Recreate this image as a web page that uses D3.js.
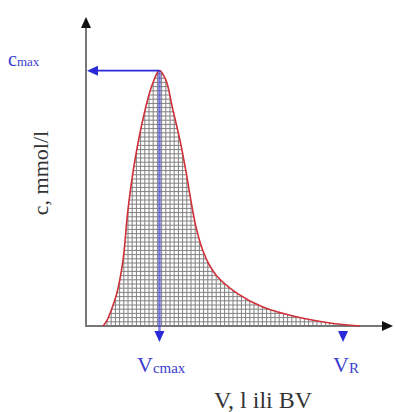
<!DOCTYPE html>
<html><head><meta charset="utf-8">
<script src="https://cdn.jsdelivr.net/npm/d3@7"></script>
<style>body{margin:0;background:#fff}svg{display:block}</style>
</head><body>
<svg id="c" width="395" height="412"></svg>
<script>
// Data (volume V, concentration c)
const volume = [5.6, 6.9, 8.5, 10.1, 12.1, 13.7, 16.0, 19.3, 21.6, 24.0, 26.1, 28.4, 30.7, 32.6, 34.3, 36.0, 38.2, 40.5, 42.8, 49.3, 57.8, 69.0, 79.7, 89.5];
const conc   = [0, 2.3, 7.0, 12.9, 25.8, 45.4, 65.0, 84.6, 94.4, 100, 96.3, 84.6, 72.8, 61.0, 49.0, 38.5, 29.5, 23.5, 19.5, 12.9, 7.4, 3.5, 1.2, 0];
const markers = ["Vcmax", "VR"];
const markerV = [24.0, 84.0];
const cmaxValue = [100];
const labels = { y: "c, mmol/l", x: "V, l ili BV" };

const svg = d3.select("#c");
const x = d3.scaleLinear().domain([0, 100]).range([86, 392]);
const y = d3.scaleLinear().domain([0, 121]).range([326, 17]);
const pts = volume.map((v, i) => [v, conc[i]]);

const crv = d3.curveCatmullRom.alpha(0.5);
const area = d3.area().x(d => x(d[0])).y0(y(0)).y1(d => y(d[1])).curve(crv);
const line = d3.line().x(d => x(d[0])).y(d => y(d[1])).curve(crv);

svg.append("clipPath").attr("id", "clip").append("path").attr("d", area(pts));
const g = svg.append("g").attr("clip-path", "url(#clip)");
const gx = d3.range(x(0), x(100), 4.2);
const gy = d3.range(y(0), y(121), -4.2);
g.selectAll("line.v").data(gx).join("line").attr("x1", d => d).attr("x2", d => d)
  .attr("y1", y(0)).attr("y2", y(121)).attr("stroke", "#808080").attr("stroke-width", 1);
g.selectAll("line.h").data(gy).join("line").attr("y1", d => d).attr("y2", d => d)
  .attr("x1", x(0)).attr("x2", x(100)).attr("stroke", "#808080").attr("stroke-width", 1);

// axes
const axisCol = "#777";
svg.append("line").attr("x1", x(0)).attr("x2", x(100) - 6).attr("y1", y(0)).attr("y2", y(0))
  .attr("stroke", axisCol).attr("stroke-width", 2);
svg.append("line").attr("x1", x(0)).attr("x2", x(0)).attr("y1", y(0) + 1).attr("y2", y(121) + 8)
  .attr("stroke", axisCol).attr("stroke-width", 2);
svg.append("path").attr("d", `M${x(0)},${y(121)} l-5,11 l10,0 Z`).attr("fill", "#111");
svg.append("path").attr("d", `M${x(100) + 1},${y(0)} l-11,-5 l0,10 Z`).attr("fill", "#111");

// curve
svg.append("path").attr("d", line(pts)).attr("fill", "none").attr("stroke", "#d0303a").attr("stroke-width", 1.6);

// markers
const blue = "#2a2ad8";
const peakV = markerV[0];
svg.append("line").attr("x1", x(peakV)).attr("x2", x(peakV)).attr("y1", y(cmaxValue[0])).attr("y2", y(0) + 6)
  .attr("stroke", "#4444dd").attr("stroke-opacity", 0.7).attr("stroke-width", 2.5);
svg.append("line").attr("x1", x(peakV)).attr("x2", x(0) + 9).attr("y1", y(cmaxValue[0])).attr("y2", y(cmaxValue[0]))
  .attr("stroke", blue).attr("stroke-width", 1.6);
svg.append("path").attr("d", `M${x(0) + 1},${y(cmaxValue[0])} l11,-5 l0,10 Z`).attr("fill", blue);
markerV.forEach(v => {
  svg.append("path").attr("d", `M${x(v) - 5},${y(0) + 5} l10,0 l-5,11 Z`).attr("fill", blue);
});

// texts
const serif = "'Liberation Serif','DejaVu Serif',serif";
const tc = "#3c3cd0";
const t1 = svg.append("text").attr("x", 137).attr("y", 372).attr("fill", tc)
  .attr("font-family", serif).attr("font-size", 22);
t1.append("tspan").text("V");
t1.append("tspan").attr("font-size", 15).attr("dy", 1).text("cmax");
const t2 = svg.append("text").attr("x", 333).attr("y", 372).attr("fill", tc)
  .attr("font-family", serif).attr("font-size", 22);
t2.append("tspan").text("V");
t2.append("tspan").attr("font-size", 15).attr("dy", 1).text("R");
const t3 = svg.append("text").attr("x", 8).attr("y", 66).attr("fill", tc)
  .attr("font-family", serif).attr("font-size", 20);
t3.append("tspan").text("c");
t3.append("tspan").attr("font-size", 13).attr("dy", 0).text("max");

svg.append("text").attr("transform", "translate(48,173) rotate(-90)").attr("text-anchor", "middle")
  .attr("font-family", serif).attr("font-size", 22).attr("fill", "#333").text(labels.y);
svg.append("text").attr("x", 263).attr("y", 408).attr("text-anchor", "middle")
  .attr("font-family", serif).attr("font-size", 24).attr("fill", "#333").text(labels.x);
</script>
</body></html>
